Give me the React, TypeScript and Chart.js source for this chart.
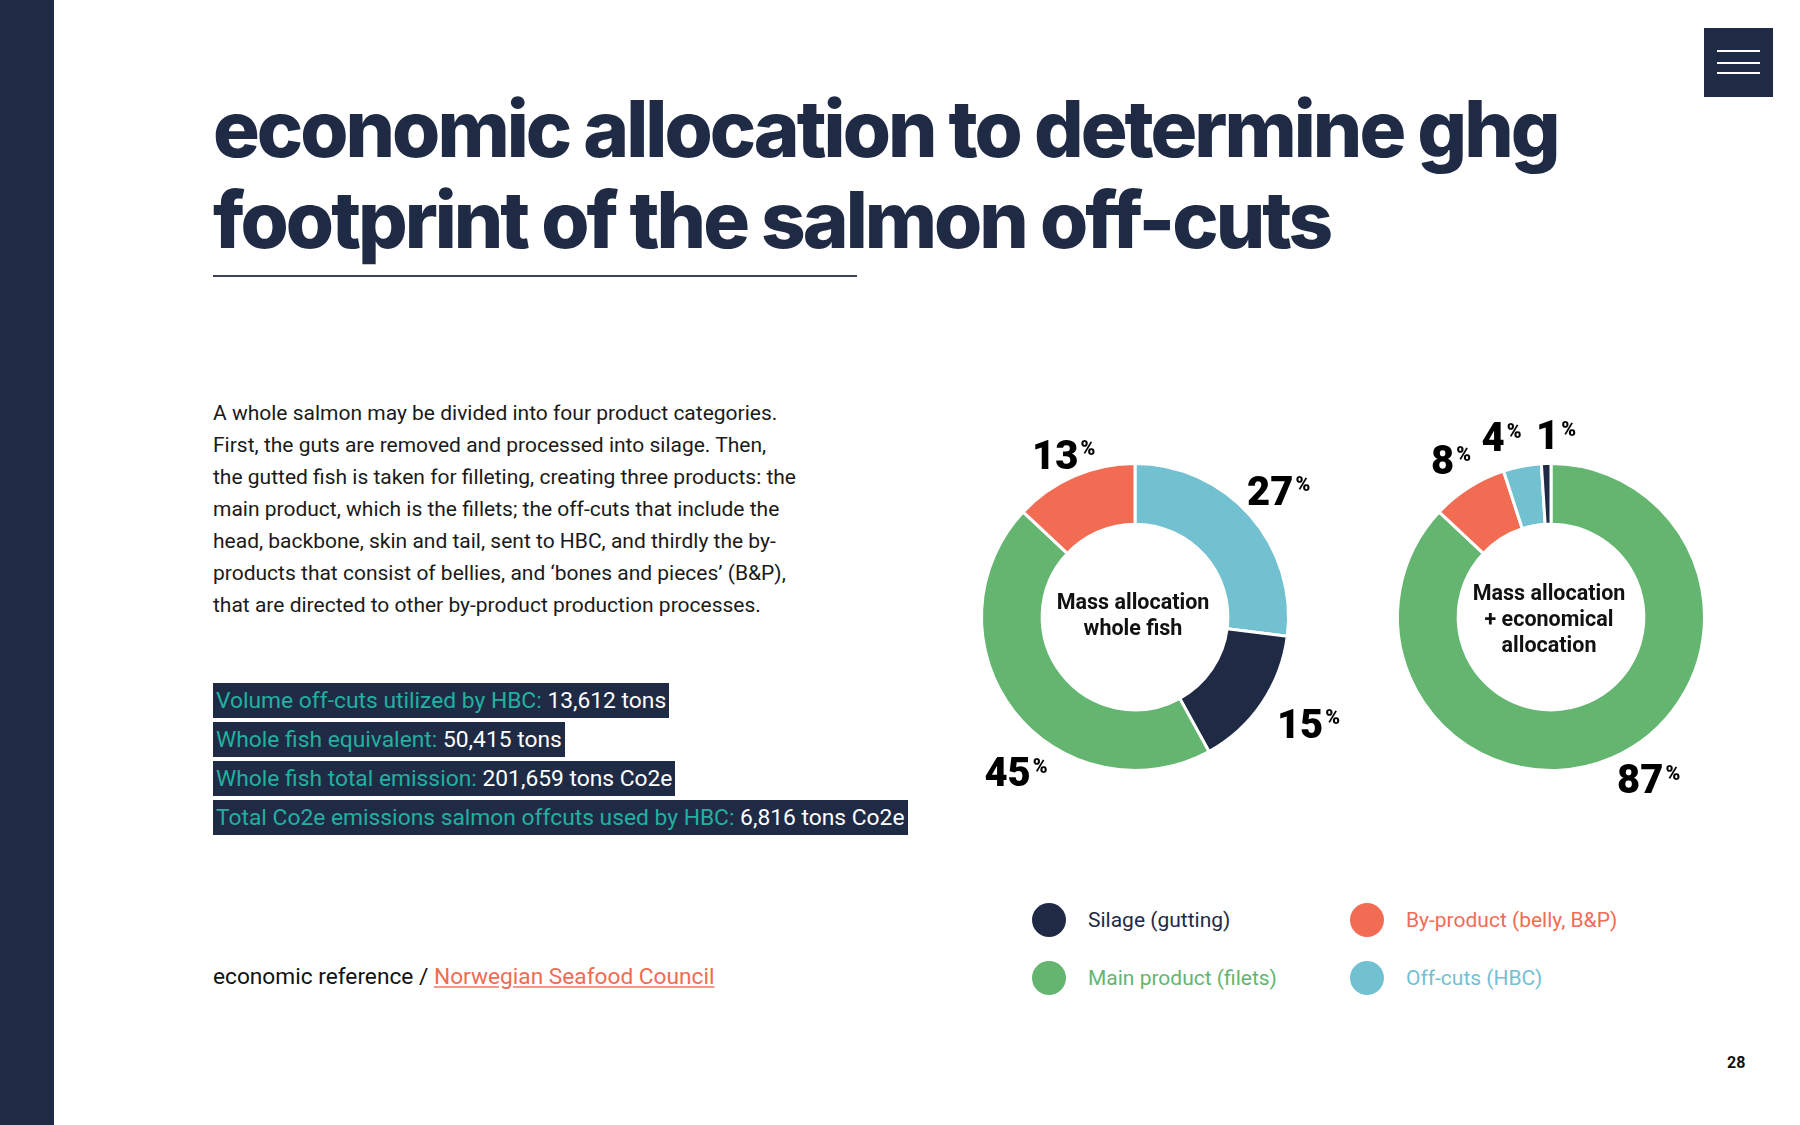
import React, { useEffect, useRef } from 'react';
import { Chart, registerables } from 'chart.js';

Chart.register(...registerables);

// ---------- data ----------
const legendCategories = ['Silage (gutting)', 'By-product (belly, B&P)', 'Main product (filets)', 'Off-cuts (HBC)'];
const legendColors = ['#1f2a44', '#f26c54', '#63b56f', '#72c1d1'];

const wholeFishLabels = ['Off-cuts (HBC)', 'Silage (gutting)', 'Main product (filets)', 'By-product (belly, B&P)'];
const wholeFishValues = [27, 15, 45, 13];
const wholeFishCenter = ['Mass allocation', 'whole fish'];

const economicLabels = ['Main product (filets)', 'By-product (belly, B&P)', 'Off-cuts (HBC)', 'Silage (gutting)'];
const economicValues = [87, 8, 4, 1];
const economicCenter = ['Mass allocation', '+ economical', 'allocation'];

const factLabels = [
  'Volume off-cuts utilized by HBC:',
  'Whole fish equivalent:',
  'Whole fish total emission:',
  'Total Co2e emissions salmon offcuts used by HBC:',
];
const factValues = ['13,612 tons', '50,415 tons', '201,659 tons Co2e', '6,816 tons Co2e'];

const paragraphLines = [
  'A whole salmon may be divided into four product categories.',
  'First, the guts are removed and processed into silage. Then,',
  'the gutted fish is taken for filleting, creating three products: the',
  'main product, which is the fillets; the off-cuts that include the',
  'head, backbone, skin and tail, sent to HBC, and thirdly the by-',
  'products that consist of bellies, and \u2018bones and pieces\u2019 (B&P),',
  'that are directed to other by-product production processes.',
];

// ---------- styling helpers ----------
const NAVY = '#1f2a44';
const colorOf = (cat: string) => legendColors[legendCategories.indexOf(cat)];

// label placement (angle nudge in degrees, distance beyond outer radius)
const wholeFishLabelNudge = [0, -2.7, -14.7, -0.3];
const wholeFishLabelOffset = [38, 50, 42, 24];
const economicLabelNudge = [-7.7, 0, -4.5, 3.4];
const economicLabelOffset = [35.5, 33, 33.6, 28.6];

const pctLabelPlugin = {
  id: 'pctLabels',
  afterDatasetsDraw(chart: any, _args: any, opts: any) {
    const ctx = chart.ctx;
    const meta = chart.getDatasetMeta(0);
    const values = chart.data.datasets[0].data as number[];
    ctx.save();
    meta.data.forEach((arc: any, i: number) => {
      const { x, y, startAngle, endAngle, outerRadius } = arc.getProps(['x', 'y', 'startAngle', 'endAngle', 'outerRadius'], true);
      const mid = (startAngle + endAngle) / 2 + ((opts.nudge?.[i] || 0) * Math.PI) / 180;
      const r = outerRadius + (opts.offset?.[i] || 30);
      const px = x + r * Math.cos(mid);
      const py = y + r * Math.sin(mid);
      const numStr = String(values[i]);
      ctx.fillStyle = '#000';
      ctx.font = '900 40px Roboto';
      const wn = ctx.measureText(numStr).width;
      ctx.font = '900 20px Roboto';
      const wp = ctx.measureText('%').width;
      const total = wn + 2 + wp;
      const left = px - total / 2;
      const cap = 40 * 0.711;
      ctx.textAlign = 'left';
      ctx.textBaseline = 'alphabetic';
      ctx.font = '900 40px Roboto';
      ctx.fillText(numStr, left, py + cap / 2);
      ctx.font = '900 20px Roboto';
      ctx.fillText('%', left + wn + 2, py - cap / 2 + 1 + 14.2);
    });
    ctx.restore();
  },
};

const centerTextPlugin = {
  id: 'centerText',
  afterDraw(chart: any, _args: any, opts: any) {
    const lines: string[] = opts.lines || [];
    const ctx = chart.ctx;
    const meta = chart.getDatasetMeta(0);
    const arc = meta.data[0];
    if (!arc) return;
    const cx = arc.x;
    const cy = arc.y + (opts.shiftY || 0);
    const lh = 26;
    ctx.save();
    ctx.fillStyle = '#111';
    ctx.font = 'bold 21.5px Roboto';
    ctx.textAlign = 'center';
    ctx.textBaseline = 'middle';
    const start = cy - ((lines.length - 1) * lh) / 2;
    lines.forEach((l, i) => ctx.fillText(l, cx - 2, start + i * lh));
    ctx.restore();
  },
};

function Donut(props: {
  labels: string[];
  values: number[];
  center: string[];
  centerShift: number;
  nudge: number[];
  offset: number[];
  style: React.CSSProperties;
}) {
  const ref = useRef<HTMLCanvasElement>(null);
  useEffect(() => {
    if (!ref.current) return;
    const chart = new Chart(ref.current, {
      type: 'doughnut',
      data: {
        labels: props.labels,
        datasets: [
          {
            data: props.values,
            backgroundColor: props.labels.map(colorOf),
            borderColor: '#ffffff',
            borderWidth: 3,
            hoverOffset: 0,
          },
        ],
      },
      options: {
        animation: false,
        responsive: false,
        maintainAspectRatio: false,
        radius: 153.5,
        cutout: '60.5%',
        plugins: {
          legend: { display: false },
          tooltip: { enabled: false },
          pctLabels: { nudge: props.nudge, offset: props.offset },
          centerText: { lines: props.center, shiftY: props.centerShift },
        } as any,
      } as any,
      plugins: [pctLabelPlugin, centerTextPlugin],
    });
    return () => chart.destroy();
  }, []);
  return <canvas ref={ref} width={500} height={500} style={{ position: 'absolute', width: 500, height: 500, ...props.style }} />;
}

export default function App() {
  const abs = (s: React.CSSProperties): React.CSSProperties => ({ position: 'absolute', ...s });
  return (
    <div style={{ position: 'absolute', left: 0, top: 0, width: 1800, height: 1125, background: '#fff', overflow: 'hidden', fontFamily: 'Roboto, sans-serif' }}>
      {/* sidebar */}
      <div style={abs({ left: 0, top: 0, width: 54, height: 1125, background: NAVY })} />
      {/* menu box */}
      <div style={abs({ left: 1704, top: 28, width: 69, height: 69, background: NAVY })}>
        {[22, 34, 44].map((t) => (
          <div key={t} style={abs({ left: 13, top: t, width: 43, height: 2, background: '#fff' })} />
        ))}
      </div>

      {/* title */}
      <div
        style={abs({
          left: 213,
          top: 83,
          fontFamily: 'Inter, sans-serif',
          fontWeight: 800,
          fontSize: 78,
          lineHeight: '91px',
          letterSpacing: '-3px',
          color: NAVY,
          whiteSpace: 'nowrap',
        })}
      >
        <div>economic allocation to determine ghg</div>
        <div>footprint of the salmon off-cuts</div>
      </div>
      <div style={abs({ left: 213, top: 275, width: 644, height: 2, background: '#3a4258' })} />

      {/* paragraph */}
      <div style={abs({ left: 213, top: 397, fontSize: 21, lineHeight: '32px', color: '#1a1a1a', whiteSpace: 'nowrap' })}>
        {paragraphLines.map((l, i) => (
          <div key={i}>{l}</div>
        ))}
      </div>

      {/* facts */}
      <div style={abs({ left: 213, top: 683 })}>
        {factLabels.map((l, i) => (
          <div key={i} style={{ marginBottom: 4, height: 35 }}>
            <span
              style={{
                display: 'inline-block',
                background: NAVY,
                height: 35,
                lineHeight: '35px',
                fontSize: 22.8,
                padding: '0 3px 0 3px',
                whiteSpace: 'nowrap',
              }}
            >
              <span style={{ color: '#22b0a0' }}>{l} </span>
              <span style={{ color: '#fff' }}>{factValues[i]}</span>
            </span>
          </div>
        ))}
      </div>

      {/* reference */}
      <div style={abs({ left: 213, top: 962, fontSize: 22.7, lineHeight: '30px', color: '#111', whiteSpace: 'nowrap' })}>
        economic reference /{' '}
        <span style={{ color: '#ef6b55', textDecoration: 'underline', textDecorationColor: '#f29a8a' }}>Norwegian Seafood Council</span>
      </div>

      {/* charts */}
      <Donut labels={wholeFishLabels} values={wholeFishValues} center={wholeFishCenter} centerShift={0} nudge={wholeFishLabelNudge} offset={wholeFishLabelOffset} style={{ left: 885, top: 367 }} />
      <Donut labels={economicLabels} values={economicValues} center={economicCenter} centerShift={4} nudge={economicLabelNudge} offset={economicLabelOffset} style={{ left: 1301, top: 367 }} />

      {/* legend */}
      {legendCategories.map((c, i) => {
        const col = i % 2;
        const row = Math.floor(i / 2);
        const cx = col === 0 ? 1049 : 1367;
        const cy = row === 0 ? 920 : 978;
        return (
          <React.Fragment key={c}>
            <div style={abs({ left: cx - 17, top: cy - 17, width: 34, height: 34, borderRadius: '50%', background: legendColors[i] })} />
            <div style={abs({ left: cx + 39, top: cy - 15, fontSize: 21, lineHeight: '30px', color: legendColors[i], whiteSpace: 'nowrap' })}>{c}</div>
          </React.Fragment>
        );
      })}

      {/* page number */}
      <div style={abs({ left: 1727, top: 1053, fontSize: 16, lineHeight: '20px', fontWeight: 700, color: '#111' })}>28</div>
    </div>
  );
}
